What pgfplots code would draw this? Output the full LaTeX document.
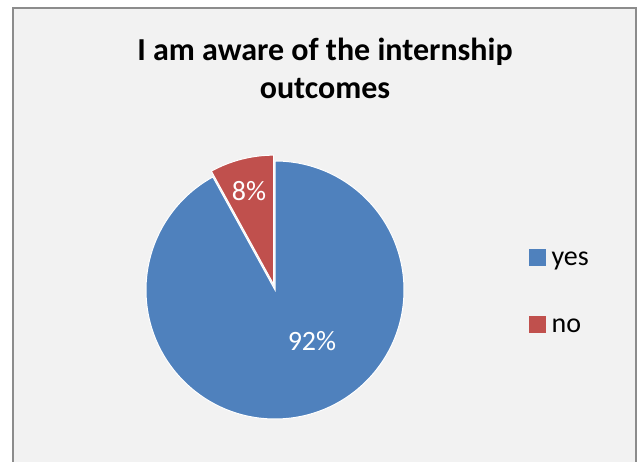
\documentclass[border=0pt]{standalone}
\usepackage{fontspec}
\setmainfont{Carlito}
\usepackage{pgfplots}
\usepackage{pgfplotstable}
\pgfplotsset{compat=1.18}

\definecolor{pieblue}{HTML}{4F81BD}
\definecolor{piered}{HTML}{C0504D}
\definecolor{chartbg}{HTML}{F2F2F2}
\definecolor{framegray}{HTML}{8C8C8C}

% share of answers, in percent
\pgfplotstableread{
label value
yes   92
no    8
}\piedata

\begin{document}
\begin{tikzpicture}
\pgfplotstablegetelem{0}{value}\of\piedata \let\vyes\pgfplotsretval
\pgfplotstablegetelem{1}{value}\of\piedata \let\vno\pgfplotsretval
\pgfmathsetmacro{\total}{\vyes+\vno}
% Excel starts at 12 o'clock and goes clockwise
\pgfmathsetmacro{\yesend}{90-360/\total*\vyes}
\pgfmathsetmacro{\nostart}{90+360/\total*\vno}
\pgfmathsetmacro{\nomid}{90+180/\total*\vno}
\pgfmathsetmacro{\pieR}{129}
\begin{axis}[
  hide axis, scale only axis,
  width=638pt, height=462pt,
  xmin=0, xmax=638, ymin=0, ymax=462,
  at={(0,0)}, anchor=south west,
  legend style={draw=none, fill=none,
    at={(526/638,170.5/462)}, anchor=west,
    font=\fontsize{28}{34}\selectfont,
    nodes={inner sep=0pt},
    column sep=6pt, row sep=49pt},
  legend cell align=left,
]
  % chart area
  \fill[white] (axis cs:0,0) rectangle (axis cs:638,462);
  \fill[chartbg] (axis cs:13,0) rectangle (axis cs:636,454);
  \draw[framegray, line width=2pt] (axis cs:13,0) -- (axis cs:13,454)
    -- (axis cs:636,454) -- (axis cs:636,0);

  % slices
  \fill[pieblue, draw=white, line width=1pt] (axis cs:275,172) -- ++(90:\pieR pt)
    arc[start angle=90, end angle=\yesend, radius=\pieR pt] -- cycle;
  \fill[piered, draw=white, line width=1pt] (axis cs:275,172) ++(\nomid:6pt)
    -- ++(\nostart:\pieR pt)
    arc[start angle=\nostart, end angle=90, radius=\pieR pt] -- cycle;

  % data labels
  \node[white, font=\fontsize{28}{34}\selectfont] at (axis cs:312,121) {\vyes\%};
  \node[white, font=\fontsize{28}{34}\selectfont] at (axis cs:249,271) {\vno\%};

  % title
  \node[align=center, font=\bfseries\fontsize{32}{38}\selectfont] at (axis cs:325,394)
    {I am aware of the internship\\outcomes};

  \addlegendimage{legend image code/.code={\fill[pieblue] (0pt,-6pt) rectangle (16pt,10pt);}}
  \addlegendentry{yes}
  \addlegendimage{legend image code/.code={\fill[piered] (0pt,-6pt) rectangle (16pt,10pt);}}
  \addlegendentry{no}
\end{axis}
\end{tikzpicture}
\end{document}
